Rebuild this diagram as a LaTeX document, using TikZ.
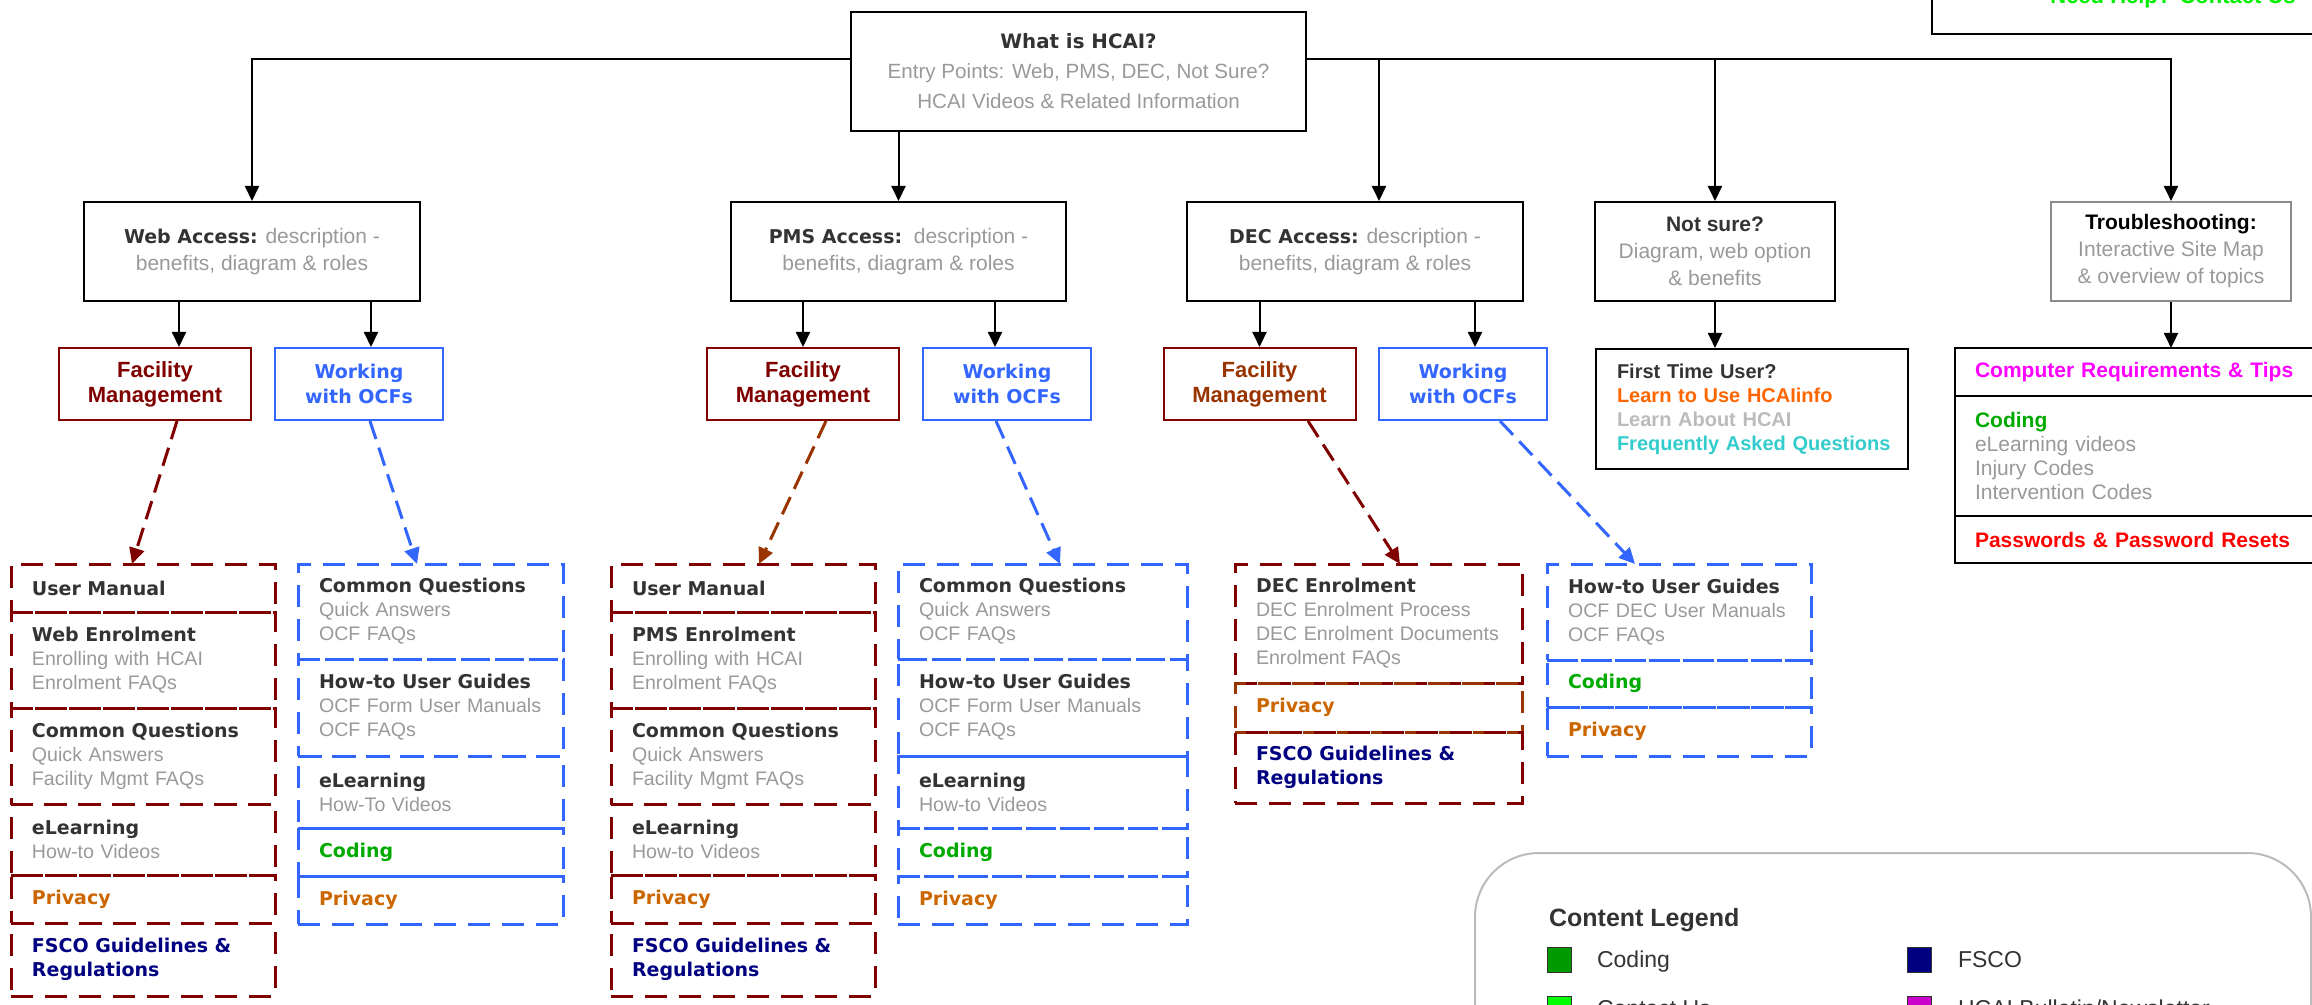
\documentclass[tikz,border=0pt]{standalone}
\usepackage{fontspec}
\setmainfont{Liberation Sans}
\newfontfamily\dejavu{DejaVu Sans}
\usepackage{xcolor}
\usepackage{tikz}
\usetikzlibrary{arrows.meta, positioning, calc}

\definecolor{ink}{HTML}{333333}
\definecolor{greytxt}{HTML}{999999}
\definecolor{fmred}{HTML}{800000}
\definecolor{fmbrown}{HTML}{993300}
\definecolor{ocfblue}{HTML}{3366FF}
\definecolor{privorange}{HTML}{CC6600}
\definecolor{codegreen}{HTML}{00AA00}
\definecolor{fsconavy}{HTML}{000080}
\definecolor{learnorange}{HTML}{FF6600}
\definecolor{lightgrey}{HTML}{BBBBBB}
\definecolor{faqteal}{HTML}{33CCCC}
\definecolor{tipmagenta}{HTML}{FF00FF}
\definecolor{pwred}{HTML}{FF0000}
\definecolor{helpgreen}{HTML}{00EE00}
\definecolor{legcoding}{HTML}{009900}
\definecolor{legcontact}{HTML}{00FF00}
\definecolor{legbulletin}{HTML}{CC00CC}

\newcommand{\hd}{\dejavu\bfseries\fontsize{9.5}{12}\selectfont\color{ink}}
\newcommand{\hdtop}{\dejavu\bfseries\fontsize{9.9}{12}\selectfont\color{ink}}
\newcommand{\nbf}{\bfseries\fontsize{10.5}{12}\selectfont}
\newcommand{\ftf}{\bfseries\fontsize{10}{12}\selectfont}
\newcommand{\fmf}{\bfseries\fontsize{11}{12.5}\selectfont}
\newcommand{\ocff}{\dejavu\bfseries\fontsize{9.5}{12.5}\selectfont}
\newcommand{\grf}{\fontsize{9.8}{12}\selectfont}

\begin{document}
\begin{tikzpicture}[
    x=0.5pt, y=-0.5pt,
    every node/.style={font=\grf, text=greytxt},
    rootbox/.style={rectangle, draw=black, line width=1.2pt, minimum width=227.5pt,
                    minimum height=59.5pt, align=center, font=\fontsize{10.3}{15}\selectfont},
    hub/.style={rectangle, draw=#1, line width=1pt, align=center, minimum height=49.5pt,
                font=\fontsize{10.5}{13.5}\selectfont},
    fm/.style={rectangle, draw=fmred, line width=1pt, minimum width=96pt, minimum height=36pt,
               align=center, font=\fmf, text=#1},
    ocf/.style={rectangle, draw=ocfblue, line width=1pt, minimum width=84pt, minimum height=36pt,
                align=center, font=\ocff, text=ocfblue},
    sec/.style n args={3}{rectangle, draw=#1, text width=#2, minimum height=#3, line width=1.5pt,
                dash pattern=on 11pt off 6pt, outer sep=0pt, inner xsep=10.5pt, inner ysep=1pt,
                align=left},
    tsec/.style={rectangle, draw=black, line width=1pt, outer sep=0pt, text width=196pt,
                 inner xsep=10pt, inner ysep=1pt, align=left, font=\nbf},
    swatch/.style={rectangle, draw=ink, line width=0.5pt, fill=#1, minimum width=12pt,
                   minimum height=12.5pt, inner sep=0pt},
    legtext/.style={anchor=base west, font=\fontsize{11.5}{14}\selectfont, text=ink},
    arr/.style={-{Triangle[length=7.5pt, width=7pt]}, line width=1pt},
    darr/.style={-{Triangle[length=8pt, width=7.5pt]}, line width=1.5pt,
                 dash pattern=on 9.5pt off 4.5pt, color=#1},
]
    \useasboundingbox (0,0) rectangle (2312,1005);
    \clip (0,0) rectangle (2312,1005);

    \node[draw=black, line width=1pt, anchor=south west, minimum width=241pt, inner ysep=13pt,
          font=\bfseries\fontsize{11}{13}\selectfont, text=helpgreen] (help) at (1931,35) {Need Help? Contact Us};

    \node[rootbox] (root) at (1078.5,71.5) {{\hdtop What is HCAI?}\\Entry Points: Web, PMS, DEC, Not Sure?\\HCAI Videos \& Related Information};

    \node[hub=black, minimum width=168pt] (web) at (252,251.5) {{\hd Web Access:} description -\\benefits, diagram \& roles};
    \node[hub=black, minimum width=167.5pt] (pms) at (898.5,251.5) {{\hd PMS Access:}\ \ description -\\benefits, diagram \& roles};
    \node[hub=black, minimum width=168pt] (dec) at (1355,251.5) {{\hd DEC Access:} description -\\benefits, diagram \& roles};
    \node[hub=black, minimum width=120pt] (ns) at (1715,251.5) {{\nbf\color{ink}Not sure?}\\Diagram, web option\\\& benefits};
    \node[hub=gray!90, minimum width=120pt] (ts) at (2171,251.5) {{\nbf\color{black}Troubleshooting:}\\Interactive Site Map\\\& overview of topics};

    \node[fm=fmred] (wfm) at (155,384) {Facility\\Management};
    \node[ocf] (wocf) at (359,384) {Working\\with OCFs};
    \node[fm=fmred] (pfm) at (803,384) {Facility\\Management};
    \node[ocf] (pocf) at (1007,384) {Working\\with OCFs};
    \node[fm=fmbrown] (dfm) at (1259.5,384) {Facility\\Management};
    \node[ocf] (docf) at (1463,384) {Working\\with OCFs};

    \node[draw=black, line width=1pt, anchor=north west, text width=135pt, inner xsep=10.5pt,
          minimum height=60pt, align=left, font=\ftf, text=ink] (ftu) at (1595,348)
          {First Time User?\\\color{learnorange}Learn to Use HCAIinfo\\\color{lightgrey}Learn About HCAI\\\color{faqteal}\mbox{Frequently Asked Questions}};

    \node[tsec, anchor=north west, minimum height=24pt, text=tipmagenta] (t1) at (1955,348) {Computer Requirements \& Tips};
    \node[tsec, minimum height=60pt, below=0pt of t1] (t2) {\color{codegreen}Coding\\\mdseries\color{greytxt}eLearning videos\\Injury Codes\\Intervention Codes};
    \node[tsec, minimum height=23.5pt, below=0pt of t2, text=pwred] (t3) {Passwords \& Password Resets};

    \node[sec={fmred}{111pt}{24pt}, anchor=north west] (w1) at (11,564) {\hd User Manual};
    \node[sec={fmred}{111pt}{48pt}, below=0pt of w1] (w2) {{\hd Web Enrolment}\\Enrolling with HCAI\\Enrolment FAQs};
    \node[sec={fmred}{111pt}{48pt}, below=0pt of w2] (w3) {{\hd Common Questions}\\Quick Answers\\Facility Mgmt FAQs};
    \node[sec={fmred}{111pt}{35.5pt}, below=0pt of w3] (w4) {{\hd eLearning}\\How-to Videos};
    \node[sec={fmred}{111pt}{24pt}, below=0pt of w4] (w5) {\hd\color{privorange}Privacy};
    \node[sec={fmred}{111pt}{36.5pt}, below=0pt of w5] (w6) {\hd\color{fsconavy}FSCO Guidelines \&\\Regulations};

    \node[sec={ocfblue}{111.5pt}{47.5pt}, anchor=north west] (o1) at (298,564) {{\hd Common Questions}\\Quick Answers\\OCF FAQs};
    \node[sec={ocfblue}{111.5pt}{48.5pt}, below=0pt of o1] (o2) {{\hd How-to User Guides}\\\mbox{OCF Form User Manuals}\\OCF FAQs};
    \node[sec={ocfblue}{111.5pt}{36pt}, below=0pt of o2] (o3) {{\hd eLearning}\\How-To Videos};
    \node[sec={ocfblue}{111.5pt}{24pt}, below=0pt of o3] (o4) {\hd\color{codegreen}Coding};
    \node[sec={ocfblue}{111.5pt}{24pt}, below=0pt of o4] (o5) {\hd\color{privorange}Privacy};

    \node[sec={fmred}{111pt}{24pt}, anchor=north west] (p1) at (611,564) {\hd User Manual};
    \node[sec={fmred}{111pt}{48pt}, below=0pt of p1] (p2) {{\hd PMS Enrolment}\\Enrolling with HCAI\\Enrolment FAQs};
    \node[sec={fmred}{111pt}{48pt}, below=0pt of p2] (p3) {{\hd Common Questions}\\Quick Answers\\Facility Mgmt FAQs};
    \node[sec={fmred}{111pt}{35.5pt}, below=0pt of p3] (p4) {{\hd eLearning}\\How-to Videos};
    \node[sec={fmred}{111pt}{24pt}, below=0pt of p4] (p5) {\hd\color{privorange}Privacy};
    \node[sec={fmred}{111pt}{36.5pt}, below=0pt of p5] (p6) {\hd\color{fsconavy}FSCO Guidelines \&\\Regulations};

    \node[sec={ocfblue}{123.5pt}{47.5pt}, anchor=north west] (q1) at (898,564) {{\hd Common Questions}\\Quick Answers\\OCF FAQs};
    \node[sec={ocfblue}{123.5pt}{48.5pt}, below=0pt of q1] (q2) {{\hd How-to User Guides}\\\mbox{OCF Form User Manuals}\\OCF FAQs};
    \node[sec={ocfblue}{123.5pt}{36pt}, below=0pt of q2] (q3) {{\hd eLearning}\\How-to Videos};
    \node[sec={ocfblue}{123.5pt}{24pt}, below=0pt of q3] (q4) {\hd\color{codegreen}Coding};
    \node[sec={ocfblue}{123.5pt}{24pt}, below=0pt of q4] (q5) {\hd\color{privorange}Privacy};

    \node[sec={fmred}{122.5pt}{59.5pt}, anchor=north west] (d1) at (1235,564) {{\hd DEC Enrolment}\\\mbox{DEC Enrolment Process}\\\mbox{DEC Enrolment Documents}\\Enrolment FAQs};
    \node[sec={fmbrown}{122.5pt}{24.5pt}, below=0pt of d1] (d2) {\hd\color{privorange}Privacy};
    \node[sec={fmred}{122.5pt}{35.5pt}, below=0pt of d2] (d3) {\hd\color{fsconavy}FSCO Guidelines \&\\Regulations};

    \node[sec={ocfblue}{111pt}{48pt}, anchor=north west] (e1) at (1547,564) {{\hd How-to User Guides}\\\mbox{OCF DEC User Manuals}\\OCF FAQs};
    \node[sec={ocfblue}{111pt}{23.5pt}, below=0pt of e1] (e2) {\hd\color{codegreen}Coding};
    \node[sec={ocfblue}{111pt}{24.5pt}, below=0pt of e2] (e3) {\hd\color{privorange}Privacy};

    \node[draw=lightgrey, line width=1pt, rounded corners=32pt, anchor=north west,
          minimum width=418pt, minimum height=200pt] (legend) at (1474,852) {};
    \node[anchor=base west, font=\bfseries\fontsize{12.5}{14}\selectfont, text=ink] (legtitle) at (1542,926) {Content Legend};
    \node[swatch=legcoding] (sqcode) at (1559,959.5) {};
    \node[swatch=fsconavy] (sqfsco) at (1919,959.5) {};
    \node[swatch=legcontact] (sqcontact) at (1559,1008.5) {};
    \node[swatch=legbulletin] (sqbulletin) at (1919,1008.5) {};
    \node[legtext] (lcode) at (1590,967) {Coding};
    \node[legtext] (lfsco) at (1951,967) {FSCO};
    \node[legtext] (lcontact) at (1590,1016) {Contact Us};
    \node[legtext] (lbulletin) at (1951,1016) {HCAI Bulletin/Newsletter};

    \coordinate (bus) at ($(root.north)+(0,48)$);
    \coordinate (decin) at ($(dec.north)+(24,0)$);
    \coordinate (wfmin) at ($(wfm.north)+(24,0)$);
    \coordinate (wocfin) at ($(wocf.north)+(12,0)$);
    \coordinate (pocfin) at ($(pocf.north)+(-12,0)$);
    \coordinate (docfin) at ($(docf.north)+(12,0)$);

    \draw[arr] (bus -| root.west) -| (web.north);
    \draw[arr] (bus -| root.east) -| (ts.north);
    \draw[arr] (root.south -| pms.north) -- (pms.north);
    \draw[arr] (bus -| decin) -- (decin);
    \draw[arr] (bus -| ns.north) -- (ns.north);

    \draw[arr] (web.south -| wfmin) -- (wfmin);
    \draw[arr] (web.south -| wocfin) -- (wocfin);
    \draw[arr] (pms.south -| pfm.north) -- (pfm.north);
    \draw[arr] (pms.south -| pocfin) -- (pocfin);
    \draw[arr] (dec.south -| dfm.north) -- (dfm.north);
    \draw[arr] (dec.south -| docfin) -- (docfin);
    \draw[arr] (ns.south) -- (ns.south |- ftu.north);
    \draw[arr] (ts.south) -- (ts.south |- t1.north);

    \draw[darr=fmred] ($(wfm.south)+(22,0)$) -- ($(w1.north)+(-11,0)$);
    \draw[darr=ocfblue] ($(wocf.south)+(11,0)$) -- ($(o1.north)+(-13.5,0)$);
    \draw[darr=fmbrown] ($(pfm.south)+(23,0)$) -- ($(p1.north)+(16,0)$);
    \draw[darr=ocfblue] ($(pocf.south)+(-11,0)$) -- ($(q1.north)+(17.5,0)$);
    \draw[darr=fmred] ($(dfm.south)+(48.5,0)$) -- ($(d1.north)+(21.5,0)$);
    \draw[darr=ocfblue] ($(docf.south)+(37,0)$) -- ($(e1.north)+(-44,0)$);
\end{tikzpicture}
\end{document}
